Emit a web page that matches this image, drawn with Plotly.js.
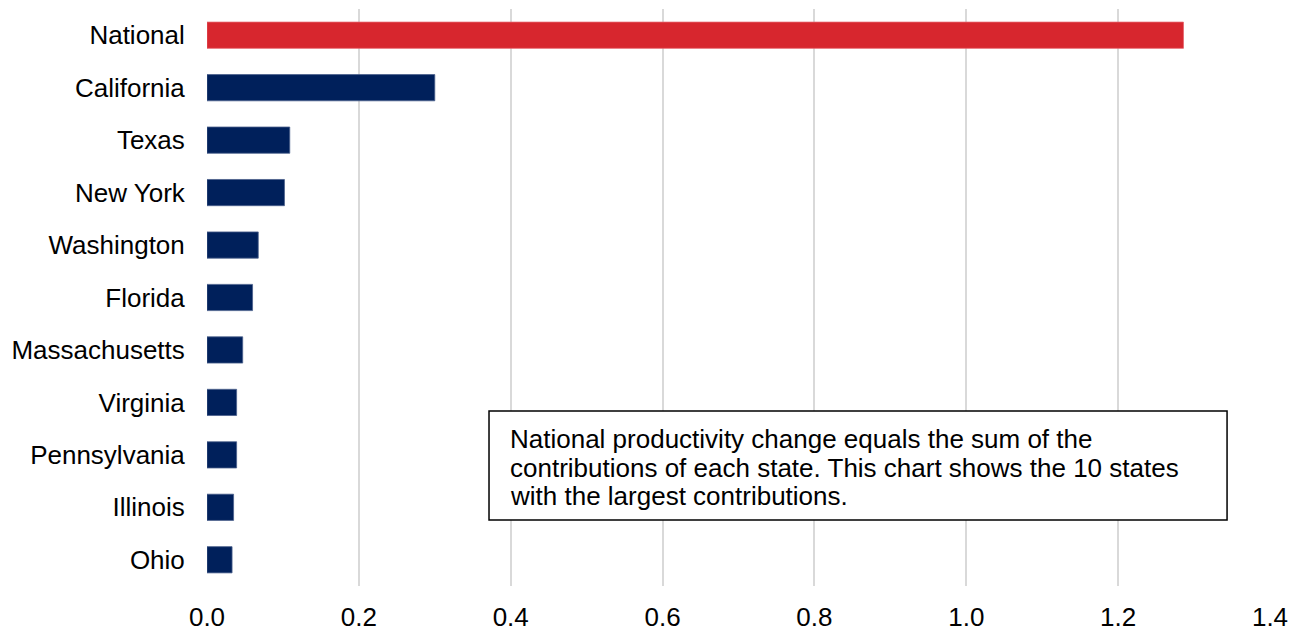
<!DOCTYPE html>
<html>
<head>
<meta charset="utf-8">
<script src="https://cdn.plot.ly/plotly-3.0.1.min.js"></script>
<style>
  html, body { margin: 0; padding: 0; background: #fff; }
  #chart { width: 1299px; height: 631px; }
</style>
</head>
<body>
<div id="chart"></div>
<script>
// Contribution to national productivity change, top 10 states
const regions = ["National", "California", "Texas", "New York", "Washington", "Florida",
                 "Massachusetts", "Virginia", "Pennsylvania", "Illinois", "Ohio"];
const contributions = [1.286, 0.300, 0.109, 0.102, 0.0675, 0.060, 0.047, 0.039, 0.039, 0.035, 0.033];
const xTicks = [0, 0.2, 0.4, 0.6, 0.8, 1.0, 1.2, 1.4];
const noteLines = [
  "National productivity change equals the sum of the",
  "contributions of each state. This chart shows the 10 states",
  "with the largest contributions."
];

const barColors = regions.map(r => r === "National" ? "#d7262e" : "#00205b");
const edgeColors = regions.map(r => r === "National" ? "#e46068" : "#4a5f8c");

const trace = {
  type: "bar",
  orientation: "h",
  x: contributions,
  y: regions,
  width: 0.5,
  marker: { color: barColors, line: { color: edgeColors, width: 0.8 } },
  hoverinfo: "x+y"
};

const fontFamily = "Liberation Sans, Arial, sans-serif";
const font = { family: fontFamily, size: 26, color: "#000" };

// Note box: a framed rectangle with three tightly spaced text lines
const noteLineY = [0.2539, 0.2048, 0.1556];
const noteAnnotations = noteLines.map((line, i) => ({
  xref: "paper", yref: "paper",
  x: 0.2832, y: noteLineY[i],
  xanchor: "left", yanchor: "middle",
  align: "left",
  showarrow: false,
  text: line,
  font: { family: fontFamily, size: 26, color: "#000" }
}));

const layout = {
  width: 1299,
  height: 631,
  margin: { l: 207, r: 29, t: 9, b: 45 },
  paper_bgcolor: "#fff",
  plot_bgcolor: "#fff",
  showlegend: false,
  font: font,
  xaxis: {
    range: [0, 1.4],
    tickvals: xTicks,
    ticktext: xTicks.map(v => v.toFixed(1)),
    showgrid: true,
    gridcolor: "#d9d9d9",
    gridwidth: 2,
    zeroline: false,
    showline: false,
    ticks: "outside",
    ticklen: 8,
    tickcolor: "rgba(0,0,0,0)",
    tickfont: font,
    fixedrange: true
  },
  yaxis: {
    type: "category",
    categoryorder: "array",
    categoryarray: regions,
    autorange: "reversed",
    showgrid: false,
    zeroline: false,
    showline: false,
    ticks: "outside",
    ticklen: 16,
    tickcolor: "rgba(0,0,0,0)",
    tickfont: font,
    fixedrange: true
  },
  shapes: [{
    type: "rect",
    xref: "paper", yref: "paper",
    x0: 0.2653, x1: 0.9596,
    y0: 0.1144, y1: 0.3033,
    line: { color: "#000", width: 1.5 },
    fillcolor: "#fff",
    layer: "above"
  }],
  annotations: noteAnnotations
};

Plotly.newPlot("chart", [trace], layout, { displayModeBar: false, staticPlot: true });
</script>
</body>
</html>
